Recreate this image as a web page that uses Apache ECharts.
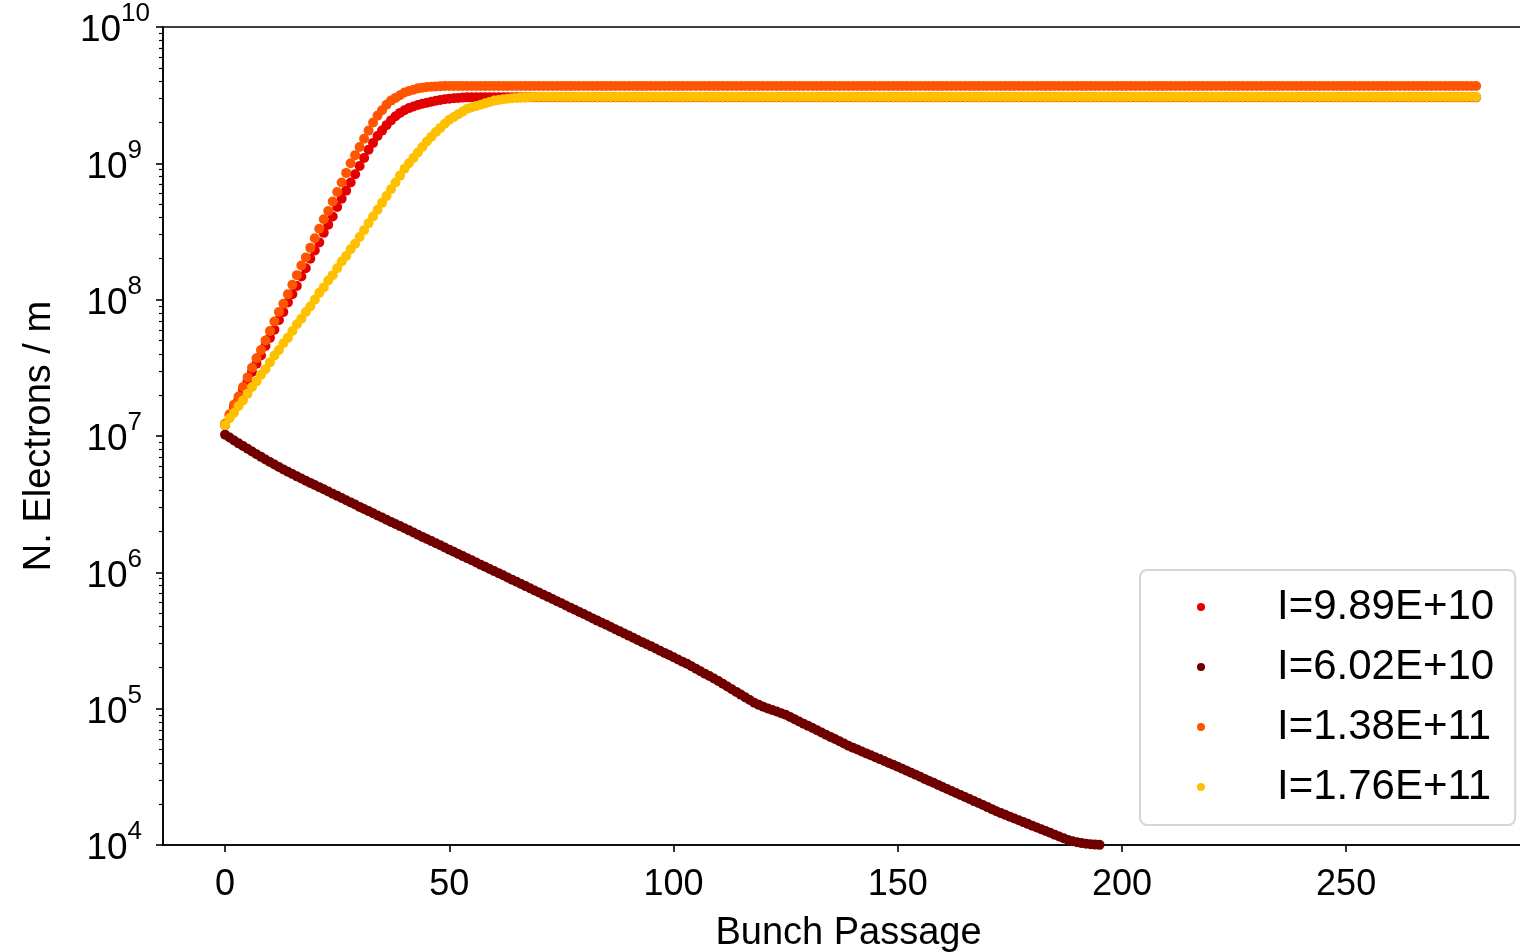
<!DOCTYPE html>
<html>
<head>
<meta charset="utf-8">
<title>Electron build-up</title>
<script src="https://cdn.jsdelivr.net/npm/echarts@6/dist/echarts.min.js"></script>
<style>
  html, body { margin: 0; padding: 0; background: #fff; }
  #chart { width: 1520px; height: 952px; }
</style>
</head>
<body>
<div id="chart"></div>
<script>
// log10 of electrons per metre, one value per bunch passage (index = passage number, 10 per row)
const logI989e10 = [
  7.08, 7.15, 7.21, 7.27, 7.34, 7.40, 7.47, 7.53, 7.59, 7.66,
  7.72, 7.78, 7.85, 7.91, 7.98, 8.04, 8.10, 8.17, 8.23, 8.30,
  8.36, 8.42, 8.49, 8.55, 8.61, 8.68, 8.74, 8.80, 8.86, 8.92,
  8.98, 9.04, 9.10, 9.15, 9.20, 9.24, 9.28, 9.315, 9.345, 9.37,
  9.39, 9.405, 9.417, 9.428, 9.437, 9.445, 9.452, 9.459, 9.465, 9.47,
  9.474, 9.477, 9.48, 9.482, 9.484, 9.484, 9.484, 9.484, 9.484, 9.484,
  9.484, 9.484, 9.484, 9.484, 9.484, 9.484, 9.484, 9.484, 9.484, 9.484,
  9.484, 9.484, 9.484, 9.484, 9.484, 9.484, 9.484, 9.484, 9.484, 9.484,
  9.484, 9.484, 9.484, 9.484, 9.484, 9.484, 9.484, 9.484, 9.484, 9.484,
  9.484, 9.484, 9.484, 9.484, 9.484, 9.484, 9.484, 9.484, 9.484, 9.484,
  9.484, 9.484, 9.484, 9.484, 9.484, 9.484, 9.484, 9.484, 9.484, 9.484,
  9.484, 9.484, 9.484, 9.484, 9.484, 9.484, 9.484, 9.484, 9.484, 9.484,
  9.484, 9.484, 9.484, 9.484, 9.484, 9.484, 9.484, 9.484, 9.484, 9.484,
  9.484, 9.484, 9.484, 9.484, 9.484, 9.484, 9.484, 9.484, 9.484, 9.484,
  9.484, 9.484, 9.484, 9.484, 9.484, 9.484, 9.484, 9.484, 9.484, 9.484,
  9.484, 9.484, 9.484, 9.484, 9.484, 9.484, 9.484, 9.484, 9.484, 9.484,
  9.484, 9.484, 9.484, 9.484, 9.484, 9.484, 9.484, 9.484, 9.484, 9.484,
  9.484, 9.484, 9.484, 9.484, 9.484, 9.484, 9.484, 9.484, 9.484, 9.484,
  9.484, 9.484, 9.484, 9.484, 9.484, 9.484, 9.484, 9.484, 9.484, 9.484,
  9.484, 9.484, 9.484, 9.484, 9.484, 9.484, 9.484, 9.484, 9.484, 9.484,
  9.484, 9.484, 9.484, 9.484, 9.484, 9.484, 9.484, 9.484, 9.484, 9.484,
  9.484, 9.484, 9.484, 9.484, 9.484, 9.484, 9.484, 9.484, 9.484, 9.484,
  9.484, 9.484, 9.484, 9.484, 9.484, 9.484, 9.484, 9.484, 9.484, 9.484,
  9.484, 9.484, 9.484, 9.484, 9.484, 9.484, 9.484, 9.484, 9.484, 9.484,
  9.484, 9.484, 9.484, 9.484, 9.484, 9.484, 9.484, 9.484, 9.484, 9.484,
  9.484, 9.484, 9.484, 9.484, 9.484, 9.484, 9.484, 9.484, 9.484, 9.484,
  9.484, 9.484, 9.484, 9.484, 9.484, 9.484, 9.484, 9.484, 9.484, 9.484,
  9.484, 9.484, 9.484, 9.484, 9.484, 9.484, 9.484, 9.484, 9.484, 9.484
];

const logI602e10 = [
  7.010, 6.989, 6.967, 6.946, 6.926, 6.906, 6.886, 6.866, 6.847, 6.828,
  6.809, 6.791, 6.773, 6.755, 6.738, 6.721, 6.704, 6.688, 6.672, 6.656,
  6.641, 6.625, 6.609, 6.593, 6.577, 6.561, 6.545, 6.529, 6.513, 6.497,
  6.480, 6.465, 6.449, 6.433, 6.417, 6.402, 6.386, 6.370, 6.355, 6.339,
  6.323, 6.308, 6.292, 6.276, 6.260, 6.245, 6.229, 6.213, 6.198, 6.182,
  6.166, 6.151, 6.135, 6.119, 6.103, 6.088, 6.072, 6.056, 6.041, 6.025,
  6.009, 5.994, 5.978, 5.962, 5.946, 5.931, 5.915, 5.899, 5.883, 5.867,
  5.852, 5.836, 5.820, 5.804, 5.788, 5.773, 5.757, 5.741, 5.725, 5.709,
  5.694, 5.678, 5.662, 5.646, 5.630, 5.615, 5.599, 5.583, 5.567, 5.551,
  5.536, 5.520, 5.504, 5.488, 5.472, 5.457, 5.441, 5.425, 5.409, 5.393,
  5.377, 5.361, 5.345, 5.329, 5.311, 5.293, 5.275, 5.257, 5.239, 5.221,
  5.203, 5.183, 5.163, 5.143, 5.123, 5.103, 5.083, 5.063, 5.043, 5.028,
  5.014, 5.002, 4.990, 4.979, 4.967, 4.955, 4.939, 4.923, 4.906, 4.890,
  4.874, 4.858, 4.842, 4.825, 4.809, 4.793, 4.777, 4.761, 4.744, 4.728,
  4.714, 4.700, 4.686, 4.672, 4.658, 4.644, 4.630, 4.616, 4.602, 4.588,
  4.574, 4.559, 4.544, 4.530, 4.515, 4.500, 4.485, 4.470, 4.456, 4.441,
  4.426, 4.411, 4.396, 4.382, 4.367, 4.352, 4.337, 4.322, 4.308, 4.293,
  4.278, 4.263, 4.248, 4.234, 4.221, 4.208, 4.195, 4.181, 4.168, 4.155,
  4.142, 4.129, 4.116, 4.103, 4.090, 4.076, 4.063, 4.050, 4.037, 4.028,
  4.020, 4.014, 4.010, 4.006, 4.003, 4.001, 3.998, 3.994, 3.990, 3.985
];

const logI138e11 = [
  7.09, 7.16, 7.23, 7.29, 7.36, 7.43, 7.50, 7.57, 7.63, 7.70,
  7.77, 7.84, 7.91, 7.97, 8.04, 8.11, 8.18, 8.25, 8.31, 8.38,
  8.45, 8.52, 8.59, 8.65, 8.72, 8.79, 8.86, 8.93, 9.00, 9.06,
  9.12, 9.18, 9.24, 9.30, 9.35, 9.39, 9.43, 9.46, 9.48, 9.50,
  9.52, 9.53, 9.54, 9.55, 9.555, 9.56, 9.562, 9.564, 9.566, 9.567,
  9.567, 9.567, 9.567, 9.567, 9.567, 9.567, 9.567, 9.567, 9.567, 9.567,
  9.567, 9.567, 9.567, 9.567, 9.567, 9.567, 9.567, 9.567, 9.567, 9.567,
  9.567, 9.567, 9.567, 9.567, 9.567, 9.567, 9.567, 9.567, 9.567, 9.567,
  9.567, 9.567, 9.567, 9.567, 9.567, 9.567, 9.567, 9.567, 9.567, 9.567,
  9.567, 9.567, 9.567, 9.567, 9.567, 9.567, 9.567, 9.567, 9.567, 9.567,
  9.567, 9.567, 9.567, 9.567, 9.567, 9.567, 9.567, 9.567, 9.567, 9.567,
  9.567, 9.567, 9.567, 9.567, 9.567, 9.567, 9.567, 9.567, 9.567, 9.567,
  9.567, 9.567, 9.567, 9.567, 9.567, 9.567, 9.567, 9.567, 9.567, 9.567,
  9.567, 9.567, 9.567, 9.567, 9.567, 9.567, 9.567, 9.567, 9.567, 9.567,
  9.567, 9.567, 9.567, 9.567, 9.567, 9.567, 9.567, 9.567, 9.567, 9.567,
  9.567, 9.567, 9.567, 9.567, 9.567, 9.567, 9.567, 9.567, 9.567, 9.567,
  9.567, 9.567, 9.567, 9.567, 9.567, 9.567, 9.567, 9.567, 9.567, 9.567,
  9.567, 9.567, 9.567, 9.567, 9.567, 9.567, 9.567, 9.567, 9.567, 9.567,
  9.567, 9.567, 9.567, 9.567, 9.567, 9.567, 9.567, 9.567, 9.567, 9.567,
  9.567, 9.567, 9.567, 9.567, 9.567, 9.567, 9.567, 9.567, 9.567, 9.567,
  9.567, 9.567, 9.567, 9.567, 9.567, 9.567, 9.567, 9.567, 9.567, 9.567,
  9.567, 9.567, 9.567, 9.567, 9.567, 9.567, 9.567, 9.567, 9.567, 9.567,
  9.567, 9.567, 9.567, 9.567, 9.567, 9.567, 9.567, 9.567, 9.567, 9.567,
  9.567, 9.567, 9.567, 9.567, 9.567, 9.567, 9.567, 9.567, 9.567, 9.567,
  9.567, 9.567, 9.567, 9.567, 9.567, 9.567, 9.567, 9.567, 9.567, 9.567,
  9.567, 9.567, 9.567, 9.567, 9.567, 9.567, 9.567, 9.567, 9.567, 9.567,
  9.567, 9.567, 9.567, 9.567, 9.567, 9.567, 9.567, 9.567, 9.567, 9.567,
  9.567, 9.567, 9.567, 9.567, 9.567, 9.567, 9.567, 9.567, 9.567, 9.567
];

const logI176e11 = [
  7.08, 7.13, 7.17, 7.22, 7.26, 7.31, 7.36, 7.40, 7.45, 7.49,
  7.54, 7.59, 7.63, 7.68, 7.72, 7.77, 7.82, 7.86, 7.91, 7.95,
  8.00, 8.05, 8.09, 8.14, 8.18, 8.23, 8.28, 8.32, 8.37, 8.41,
  8.46, 8.51, 8.56, 8.61, 8.66, 8.71, 8.76, 8.81, 8.86, 8.91,
  8.96, 9.00, 9.04, 9.08, 9.12, 9.16, 9.195, 9.23, 9.26, 9.29,
  9.32, 9.34, 9.36, 9.38, 9.40, 9.41, 9.42, 9.43, 9.44, 9.45,
  9.46, 9.465, 9.47, 9.474, 9.477, 9.48, 9.482, 9.484, 9.485, 9.486,
  9.487, 9.487, 9.487, 9.487, 9.487, 9.487, 9.487, 9.487, 9.487, 9.487,
  9.487, 9.487, 9.487, 9.487, 9.487, 9.487, 9.487, 9.487, 9.487, 9.487,
  9.487, 9.487, 9.487, 9.487, 9.487, 9.487, 9.487, 9.487, 9.487, 9.487,
  9.487, 9.487, 9.487, 9.487, 9.487, 9.487, 9.487, 9.487, 9.487, 9.487,
  9.487, 9.487, 9.487, 9.487, 9.487, 9.487, 9.487, 9.487, 9.487, 9.487,
  9.487, 9.487, 9.487, 9.487, 9.487, 9.487, 9.487, 9.487, 9.487, 9.487,
  9.487, 9.487, 9.487, 9.487, 9.487, 9.487, 9.487, 9.487, 9.487, 9.487,
  9.487, 9.487, 9.487, 9.487, 9.487, 9.487, 9.487, 9.487, 9.487, 9.487,
  9.487, 9.487, 9.487, 9.487, 9.487, 9.487, 9.487, 9.487, 9.487, 9.487,
  9.487, 9.487, 9.487, 9.487, 9.487, 9.487, 9.487, 9.487, 9.487, 9.487,
  9.487, 9.487, 9.487, 9.487, 9.487, 9.487, 9.487, 9.487, 9.487, 9.487,
  9.487, 9.487, 9.487, 9.487, 9.487, 9.487, 9.487, 9.487, 9.487, 9.487,
  9.487, 9.487, 9.487, 9.487, 9.487, 9.487, 9.487, 9.487, 9.487, 9.487,
  9.487, 9.487, 9.487, 9.487, 9.487, 9.487, 9.487, 9.487, 9.487, 9.487,
  9.487, 9.487, 9.487, 9.487, 9.487, 9.487, 9.487, 9.487, 9.487, 9.487,
  9.487, 9.487, 9.487, 9.487, 9.487, 9.487, 9.487, 9.487, 9.487, 9.487,
  9.487, 9.487, 9.487, 9.487, 9.487, 9.487, 9.487, 9.487, 9.487, 9.487,
  9.487, 9.487, 9.487, 9.487, 9.487, 9.487, 9.487, 9.487, 9.487, 9.487,
  9.487, 9.487, 9.487, 9.487, 9.487, 9.487, 9.487, 9.487, 9.487, 9.487,
  9.487, 9.487, 9.487, 9.487, 9.487, 9.487, 9.487, 9.487, 9.487, 9.487,
  9.487, 9.487, 9.487, 9.487, 9.487, 9.487, 9.487, 9.487, 9.487, 9.487
];

const seriesNames = ['I=9.89E+10', 'I=6.02E+10', 'I=1.38E+11', 'I=1.76E+11'];
const seriesColors = ['#e30000', '#700000', '#ff5500', '#ffc000'];
const xTicks = [0, 50, 100, 150, 200, 250];
const yMajorTicks = [1e4, 1e5, 1e6, 1e7, 1e8, 1e9, 1e10];
const yMinorMantissas = [2, 3, 4, 5, 6, 7, 8, 9];

const FONT = '"Liberation Sans", "DejaVu Sans", sans-serif';

let yMinorTicks = [];
yMajorTicks.slice(0, -1).forEach(d => {
    yMinorMantissas.forEach(m => yMinorTicks.push(m * d));
});

// passage number is the index
const toPoints = (logs) => logs.map((lg, i) => [i, Math.pow(10, lg)]);

const allLogs = [logI989e10, logI602e10, logI138e11, logI176e11];

let chart = echarts.init(document.getElementById('chart'), null, {renderer: 'canvas'});

const axisLineStyle = {color: '#000', width: 1.6};

// 10^n label, single digit exponents get a little trailing room like the original
const powerLabel = (v) => {
    const e = Math.round(Math.log10(v));
    return '{b|10}{s|' + e + '}' + (e < 10 ? '{g|}' : '');
};

let option = {
    animation: false,
    backgroundColor: '#fff',
    grid: {
        left: 163, top: 27, right: -14, bottom: 107,
        show: true, borderColor: '#000', borderWidth: 1.6,
        containLabel: false,
        outerBoundsMode: 'none'
    },
    legend: {
        orient: 'vertical',
        left: 1140, top: 570,
        padding: [16, 21, 17, 57],
        itemWidth: 20, itemHeight: 8, itemGap: 18,
        icon: 'circle',
        selectedMode: false,
        backgroundColor: 'rgba(255,255,255,0.85)',
        borderColor: '#d6d6d6', borderWidth: 2, borderRadius: 7,
        textStyle: {fontFamily: FONT, fontSize: 42, lineHeight: 42, color: '#000', padding: [0, 0, 0, 61]},
        data: seriesNames
    },
    xAxis: {
        type: 'value',
        min: -13.85, max: 291.9,
        axisLine: {show: true, onZero: false, lineStyle: axisLineStyle},
        axisTick: {show: true, length: 7, customValues: xTicks, lineStyle: axisLineStyle},
        axisLabel: {customValues: xTicks, fontFamily: FONT, fontSize: 36, color: '#000', margin: 22},
        splitLine: {show: false},
        name: 'Bunch Passage', nameLocation: 'middle', nameGap: 70,
        nameTextStyle: {fontFamily: FONT, fontSize: 38, color: '#000'}
    },
    yAxis: [{
        type: 'log', logBase: 10, min: 1e4, max: 1e10,
        axisLine: {show: true, onZero: false, lineStyle: axisLineStyle},
        axisTick: {show: true, length: 7, customValues: yMajorTicks, lineStyle: axisLineStyle},
        axisLabel: {
            customValues: yMajorTicks, margin: 13, color: '#000',
            padding: [8, 0, 0, 0],
            formatter: powerLabel,
            rich: {
                b: {fontFamily: FONT, fontSize: 37, lineHeight: 60, color: '#000'},
                s: {fontFamily: FONT, fontSize: 26, lineHeight: 30, verticalAlign: 'top', color: '#000'},
                g: {width: 8, lineHeight: 30}
            }
        },
        splitLine: {show: false},
        name: 'N. Electrons / m', nameLocation: 'middle', nameGap: 104,
        nameTextStyle: {fontFamily: FONT, fontSize: 38, color: '#000'}
    }, {
        type: 'log', logBase: 10, min: 1e4, max: 1e10, position: 'left',
        axisLine: {show: false, onZero: false},
        axisTick: {show: true, length: 4, customValues: yMinorTicks, lineStyle: {color: '#000', width: 1.2}},
        axisLabel: {show: false},
        splitLine: {show: false}
    }],
    series: allLogs.map((logs, k) => ({
        name: seriesNames[k],
        type: 'scatter',
        yAxisIndex: 0,
        symbol: 'circle',
        symbolSize: 10,
        clip: true,
        itemStyle: {color: seriesColors[k], opacity: 1},
        emphasis: {disabled: true},
        data: toPoints(logs)
    }))
};

chart.setOption(option);
</script>
</body>
</html>
